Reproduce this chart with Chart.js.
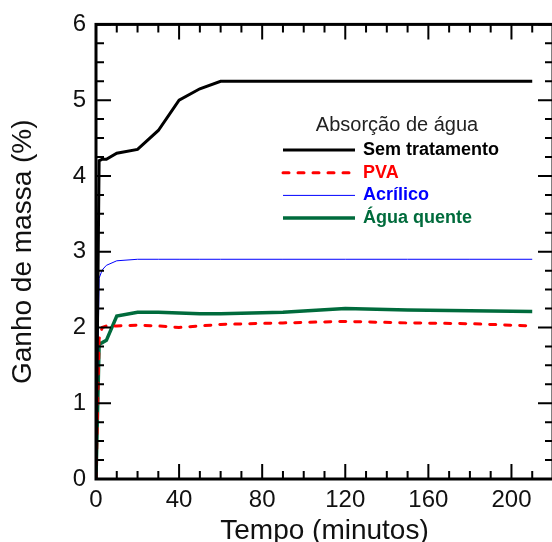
<!DOCTYPE html>
<html>
<head>
<meta charset="utf-8">
<script src="https://cdn.jsdelivr.net/npm/chart.js@4/dist/chart.umd.min.js"></script>
<style>
html,body{margin:0;padding:0;background:#fff;overflow:hidden;width:552px;height:542px;}
canvas{display:block;}
</style>
</head>
<body>
<canvas id="c" width="556" height="560"></canvas>
<script>
// ---- data ----
const times        = [0, 1.5, 3, 5, 10, 20, 30, 40, 50, 60, 90, 120, 150, 180, 210];
const semTratamento= [0, 4.2, 4.22, 4.22, 4.3, 4.35, 4.6, 5.0, 5.15, 5.25, 5.25, 5.25, 5.25, 5.25, 5.25];
const pva          = [0, 1.85, 2.0, 2.02, 2.02, 2.03, 2.02, 2.0, 2.02, 2.04, 2.06, 2.08, 2.06, 2.05, 2.02];
const acrilico     = [0, 2.65, 2.76, 2.82, 2.88, 2.9, 2.9, 2.9, 2.9, 2.9, 2.9, 2.9, 2.9, 2.9, 2.9];
const aguaQuente   = [0, 1.78, 1.8, 1.83, 2.15, 2.2, 2.2, 2.19, 2.18, 2.18, 2.2, 2.25, 2.23, 2.22, 2.21];
const seriesLabels = ['Sem tratamento', 'PVA', 'Acrílico', 'Água quente'];
const legendTitle  = 'Absorção de água';
const xTitle = 'Tempo (minutos)';
const yTitle = 'Ganho de massa (%)';

const toPts = arr => arr.map((v, i) => ({x: times[i], y: v}));
const FONT = "'Liberation Sans', Arial, sans-serif";
const TXT = '#111';

const framePlugin = {
  id: 'frame',
  afterDatasetsDraw(chart) {
    const {ctx, chartArea: a, scales: {x, y}} = chart;
    ctx.save();
    ctx.strokeStyle = '#000';
    ctx.lineWidth = 2;
    const maj = 15, min = 8;
    for (let v = 0; v <= 220 + 1e-9; v += 10) {
      const px = x.getPixelForValue(v);
      const L = (v % 40 === 0) ? maj : min;
      ctx.beginPath();
      ctx.moveTo(px, a.bottom); ctx.lineTo(px, a.bottom - L);
      ctx.moveTo(px, a.top); ctx.lineTo(px, a.top + L);
      ctx.stroke();
    }
    for (let k = 0; k <= 24; k++) {
      const v = k * 0.25;
      const py = y.getPixelForValue(v);
      const L = (k % 4 === 0) ? maj : min;
      ctx.beginPath();
      ctx.moveTo(a.left, py); ctx.lineTo(a.left + L, py);
      ctx.moveTo(a.right, py); ctx.lineTo(a.right - L, py);
      ctx.stroke();
    }
    ctx.lineWidth = 3;
    ctx.strokeRect(a.left, a.top, a.right - a.left, a.bottom - a.top);
    ctx.restore();
  },
  afterDraw(chart) {
    const {ctx} = chart;
    ctx.save();
    ctx.fillStyle = '#222';
    ctx.font = "20px " + FONT;
    ctx.textAlign = 'center';
    ctx.textBaseline = 'middle';
    ctx.fillText(legendTitle, 397, 125);
    const y0 = 150, step = 22.7;
    chart.data.datasets.forEach((ds, i) => {
      const yy = y0 + i * step;
      ctx.beginPath();
      ctx.strokeStyle = ds.borderColor;
      ctx.lineWidth = ds.borderWidth;
      ctx.lineCap = ds.borderDash ? 'round' : 'butt';
      ctx.setLineDash(ds.borderDash || []);
      ctx.moveTo(283, yy); ctx.lineTo(355, yy);
      ctx.stroke();
      ctx.setLineDash([]);
      ctx.fillStyle = ds.borderColor;
      ctx.font = "bold 18px " + FONT;
      ctx.textAlign = 'left';
      ctx.fillText(ds.label, 363, yy);
    });
    ctx.restore();
  }
};

new Chart(document.getElementById('c'), {
  type: 'line',
  data: {
    datasets: [
      {label: seriesLabels[0], data: toPts(semTratamento), borderColor: '#000000', borderWidth: 3},
      {label: seriesLabels[1], data: toPts(pva), borderColor: '#ff0000', borderWidth: 3, borderDash: [6, 9], borderCapStyle: 'round'},
      {label: seriesLabels[2], data: toPts(acrilico), borderColor: '#0000ff', borderWidth: 1},
      {label: seriesLabels[3], data: toPts(aguaQuente), borderColor: '#006b3c', borderWidth: 3.5}
    ]
  },
  options: {
    responsive: false,
    animation: false,
    devicePixelRatio: 1,
    elements: {point: {radius: 0}, line: {tension: 0}},
    layout: {padding: {top: 21, right: 3, left: 0, bottom: 0}},
    plugins: {legend: {display: false}, tooltip: {enabled: false}},
    scales: {
      x: {
        type: 'linear', min: 0, max: 220,
        grid: {display: false, drawTicks: false, tickLength: 0},
        border: {display: false},
        ticks: {stepSize: 40, includeBounds: false, padding: 7, color: TXT, font: {family: FONT, size: 24}, maxRotation: 0},
        title: {display: true, text: xTitle, color: TXT, font: {family: FONT, size: 28}, padding: {top: 0, bottom: 12}},
        afterFit(s) { s.height = 81; }
      },
      y: {
        type: 'linear', min: 0, max: 6,
        grid: {display: false, drawTicks: false, tickLength: 0},
        border: {display: false},
        ticks: {stepSize: 1, padding: 10, color: TXT, font: {family: FONT, size: 24}},
        title: {display: true, text: yTitle, color: TXT, font: {family: FONT, size: 28}, padding: {top: 6, bottom: 0}},
        afterFit(s) { s.width = 96; }
      }
    }
  },
  plugins: [framePlugin]
});
</script>
</body>
</html>
